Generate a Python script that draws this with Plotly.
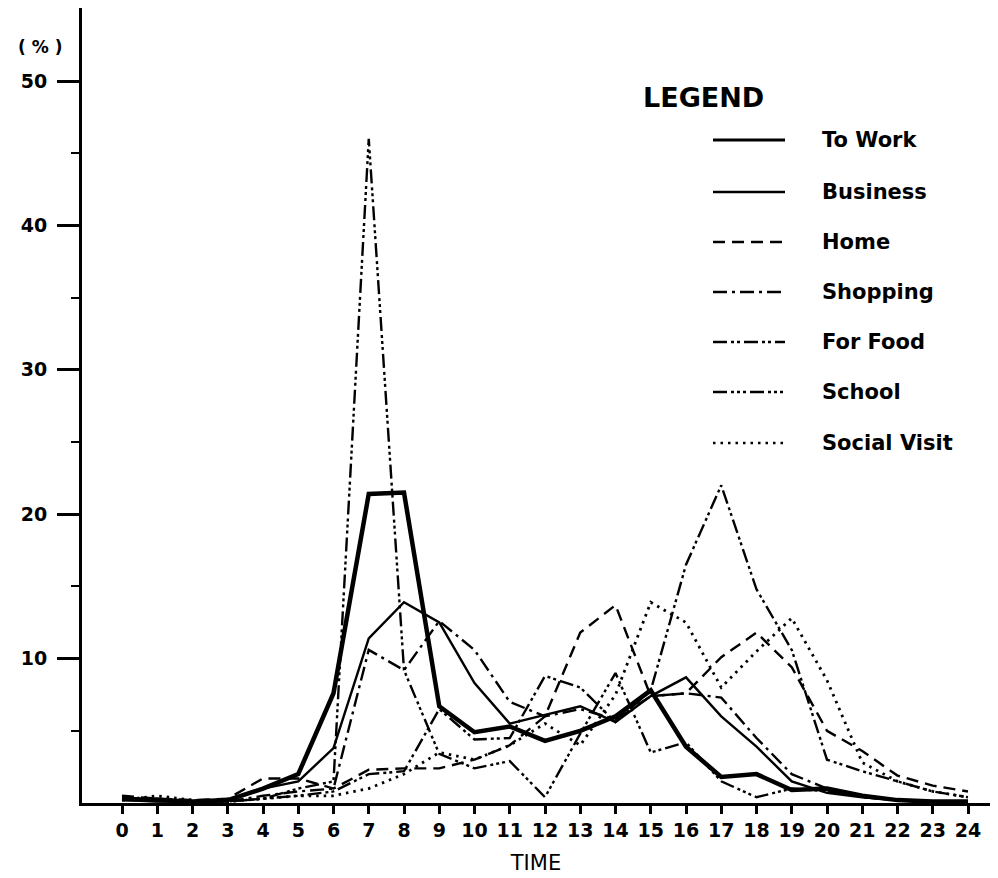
import plotly.graph_objects as go

# Hour of day
hours = list(range(25))

# Share of trips (%) starting in each hour, by purpose
to_work = [0.3, 0.2, 0.1, 0.2, 1.0, 2.0, 7.6, 21.4, 21.5, 6.7, 4.9, 5.3, 4.3, 5.0, 6.0, 7.8, 3.9, 1.8, 2.0, 0.9, 1.0, 0.5, 0.2, 0.1, 0.1]
business = [0.2, 0.1, 0.1, 0.2, 1.0, 1.5, 3.8, 11.4, 13.9, 12.5, 8.3, 5.5, 6.1, 6.7, 5.6, 7.4, 8.7, 6.0, 3.9, 1.5, 0.7, 0.4, 0.2, 0.1, 0.1]
home = [0.5, 0.3, 0.2, 0.3, 1.7, 1.7, 1.0, 2.3, 2.4, 2.4, 3.0, 4.0, 6.0, 11.8, 13.7, 7.4, 7.6, 10.1, 11.8, 9.4, 5.0, 3.6, 1.9, 1.2, 0.8]
shopping = [0.3, 0.3, 0.1, 0.1, 0.5, 0.8, 1.0, 10.6, 9.2, 12.6, 10.6, 7.0, 6.0, 6.5, 5.8, 7.4, 7.6, 7.3, 4.5, 2.0, 1.0, 0.5, 0.2, 0.1, 0.1]
for_food = [0.2, 0.3, 0.1, 0.1, 0.3, 0.5, 0.8, 2.0, 2.2, 6.5, 4.4, 4.5, 8.8, 8.0, 5.6, 7.8, 16.5, 22.0, 14.8, 10.6, 3.0, 2.2, 1.5, 0.8, 0.4]
school = [0.2, 0.2, 0.1, 0.1, 0.3, 1.0, 1.5, 46.0, 9.2, 3.4, 2.4, 2.9, 0.4, 4.8, 9.0, 3.5, 4.2, 1.5, 0.4, 1.0, 0.8, 0.4, 0.2, 0.1, 0.1]
social_visit = [0.2, 0.5, 0.2, 0.1, 0.3, 0.5, 0.5, 1.0, 2.0, 3.5, 3.0, 4.0, 5.5, 4.0, 7.5, 13.9, 12.5, 8.0, 10.5, 12.8, 8.5, 2.8, 1.5, 0.8, 0.4]

purposes = ["To Work", "Business", "Home", "Shopping", "For Food", "School", "Social Visit"]
series = [to_work, business, home, shopping, for_food, school, social_visit]

# Line style per purpose: (width, dash pattern)
styles = [
    (4.5, "solid"),
    (2.4, "solid"),
    (2.4, "12px,7px"),
    (2.4, "14px,5px,3px,5px"),
    (2.4, "14px,4px,3px,3px,3px,4px"),
    (2.4, "14px,4px,3px,3px,3px,3px,3px,4px"),
    (2.8, "2.5px,5px"),
]

fig = go.Figure()
for name, ys, (w, d) in zip(purposes, series, styles):
    fig.add_trace(go.Scatter(
        x=hours, y=ys, mode="lines", name=name,
        line=dict(color="black", width=w, dash=d),
        showlegend=False,
    ))

# Hand-drawn style legend block
x0_px, x1_px, lab_px = 713, 785, 820
row_py = [140, 192, 242, 292, 342, 392, 443]
W, H = 998, 878
L, R, T, B = 82, 8, 8, 75
pw, ph = W - L - R, H - T - B


def px2paper(px, py):
    return (px - L) / pw, (H - B - py) / ph


lx, ly = px2paper(641, 98)
fig.add_annotation(x=lx, y=ly, xref="paper", yref="paper", text="<b>LEGEND</b>",
                   showarrow=False, xanchor="left", yanchor="middle",
                   font=dict(family="DejaVu Sans", size=27, color="black"))
for name, py, (w, d) in zip(purposes, row_py, styles):
    a, yy = px2paper(x0_px, py)
    b, _ = px2paper(x1_px, py)
    fig.add_shape(type="line", xref="paper", yref="paper", x0=a, x1=b, y0=yy, y1=yy,
                  line=dict(color="black", width=3.2 if w > 4 else 2.6, dash=d))
    t, _ = px2paper(lab_px, py)
    fig.add_annotation(x=t, y=yy, xref="paper", yref="paper", text="<b>" + name + "</b>",
                       showarrow=False, xanchor="left", yanchor="middle",
                       font=dict(family="DejaVu Sans", size=21, color="black"))

# Unit label above the value axis
ux, uy = px2paper(40, 47)
fig.add_annotation(x=ux, y=uy, xref="paper", yref="paper", text="<b>( % )</b>",
                   showarrow=False, xanchor="center", yanchor="middle",
                   font=dict(family="DejaVu Sans", size=17, color="black"))

fig.update_layout(
    width=W, height=H,
    margin=dict(l=L, r=R, t=T, b=B),
    paper_bgcolor="white", plot_bgcolor="white",
    showlegend=False,
    font=dict(family="DejaVu Sans", color="black"),
)
fig.update_xaxes(
    range=[(L - 122) / 35.25, (W - R - 122) / 35.25],
    tickmode="array", tickvals=hours, ticktext=[str(h) for h in hours],
    ticks="outside", ticklen=8, tickwidth=2.5, tickcolor="black",
    tickfont=dict(size=19, family="DejaVu Sans", weight="bold"),
    showline=True, linecolor="black", linewidth=3,
    showgrid=False, zeroline=False,
    title=dict(text="TIME", font=dict(size=21, family="DejaVu Sans"), standoff=16),
)
fig.update_yaxes(
    range=[0, (H - B - T) / 14.44],
    tickmode="array", tickvals=[10, 20, 30, 40, 50],
    ticks="outside", ticklen=22, tickwidth=2.5, tickcolor="black",
    tickfont=dict(size=19, family="DejaVu Sans", weight="bold"),
    ticklabelstandoff=6,
    minor=dict(tickmode="array", tickvals=[5, 15, 25, 35, 45], ticks="outside",
               ticklen=8, tickwidth=2, tickcolor="black"),
    showline=True, linecolor="black", linewidth=3,
    showgrid=False, zeroline=False,
)

fig.write_html("out.html")
